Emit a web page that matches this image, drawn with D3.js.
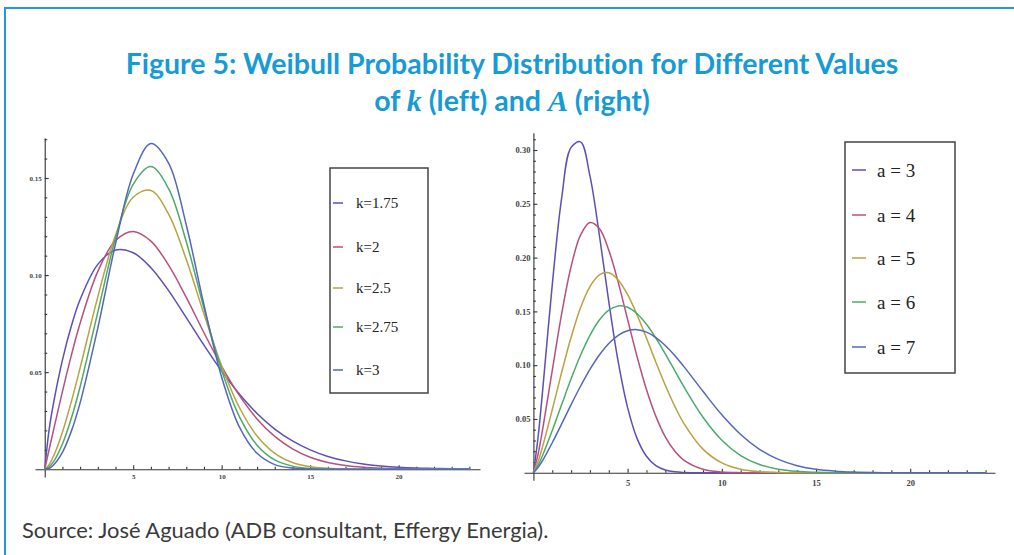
<!doctype html>
<html>
<head>
<style>
  body { margin: 0; background: #fff; }
  .tick text { font-family: "Liberation Serif", serif; font-weight: bold; fill: #444; }
  .domain, .tick line { stroke: #333; stroke-width: 1.1; }
  .legend text { font-family: "Liberation Serif", serif; fill: #222; }
  .ttl { font-family: Lato, sans-serif; font-weight: bold; fill: #169bd5; font-variant-ligatures: none; }
</style>
<script src="https://d3js.org/d3.v7.min.js"></script>
</head>
<body>
<svg width="1014" height="555"></svg>
<script>
// left panel: scale 7, shape k varies
const leftX = [0, 0.25, 0.5, 1, 1.5, 2, 3, 4, 5, 6, 7, 8, 9, 10, 11, 12, 13, 14, 15, 16, 17, 18, 19, 20, 21, 22, 23, 24];
const k175 = [0, 0.0205, 0.0342, 0.0562, 0.0736, 0.0874, 0.1055, 0.1129, 0.1115, 0.1038, 0.0920, 0.0781, 0.0639, 0.0505, 0.0387, 0.0287, 0.0207, 0.0146, 0.0100, 0.0066, 0.0043, 0.0027, 0.0017, 0.0010, 0.0006, 0.0004, 0.0002, 0.0001];
const k2   = [0, 0.0102, 0.0203, 0.0400, 0.0585, 0.0752, 0.1019, 0.1178, 0.1225, 0.1175, 0.1051, 0.0885, 0.0703, 0.0530, 0.0380, 0.0259, 0.0169, 0.0105, 0.0062, 0.0035, 0.0019, 0.0010, 0.0005, 0.0002, 0.0001, 0, 0, 0];
const k25  = [0, 0.0024, 0.0068, 0.0191, 0.0347, 0.0522, 0.0888, 0.1205, 0.1401, 0.1436, 0.1314, 0.1080, 0.0799, 0.0532, 0.0318, 0.0171, 0.0082, 0.0035, 0.0013, 0.0005, 0.0001, 0, 0, 0, 0, 0, 0, 0];
const k275 = [0, 0.0012, 0.0039, 0.0130, 0.0261, 0.0425, 0.0809, 0.1190, 0.1467, 0.1559, 0.1445, 0.1172, 0.0829, 0.0510, 0.0271, 0.0124, 0.0048, 0.0016, 0.0004, 0.0001, 0, 0, 0, 0, 0, 0, 0, 0];
const k3   = [0, 0.0005, 0.0022, 0.0087, 0.0195, 0.0342, 0.0728, 0.1161, 0.1519, 0.1678, 0.1577, 0.1258, 0.0846, 0.0474, 0.0218, 0.0082, 0.0024, 0.0006, 0.0001, 0, 0, 0, 0, 0, 0, 0, 0, 0];
const leftLabels = ["k=1.75", "k=2", "k=2.5", "k=2.75", "k=3"];

// right panel: scale a varies
const rightX = [0, 0.25, 0.5, 1, 1.5, 2, 2.5, 3, 3.5, 4, 4.5, 5, 5.5, 6, 6.5, 7, 7.5, 8, 9, 10, 11, 12, 13, 14, 15, 16, 17, 18, 19, 20, 21, 22, 23, 24];
const a3 = [0, 0.0335, 0.0785, 0.1746, 0.2556, 0.3024, 0.3076, 0.2759, 0.2210, 0.1591, 0.1032, 0.0605, 0.0320, 0.0153, 0.0066, 0.0026, 0.0009, 0.0003, 0, 0, 0, 0, 0, 0, 0, 0, 0, 0, 0, 0, 0, 0, 0, 0];
const a4 = [0, 0.0175, 0.0414, 0.0951, 0.1479, 0.1917, 0.2209, 0.2326, 0.2270, 0.2069, 0.1770, 0.1425, 0.1081, 0.0774, 0.0524, 0.0334, 0.0202, 0.0115, 0.0032, 0.0007, 0.0001, 0, 0, 0, 0, 0, 0, 0, 0, 0, 0, 0, 0, 0];
const a5 = [0, 0.0106, 0.0252, 0.0586, 0.0935, 0.1260, 0.1534, 0.1731, 0.1840, 0.1859, 0.1792, 0.1655, 0.1468, 0.1252, 0.1028, 0.0813, 0.0619, 0.0455, 0.0220, 0.0092, 0.0033, 0.0010, 0.0003, 0.0001, 0, 0, 0, 0, 0, 0, 0, 0, 0, 0];
const a6 = [0, 0.0071, 0.0167, 0.0392, 0.0634, 0.0873, 0.1092, 0.1278, 0.1420, 0.1512, 0.1551, 0.1538, 0.1478, 0.1380, 0.1252, 0.1105, 0.0950, 0.0795, 0.0516, 0.0303, 0.0160, 0.0077, 0.0033, 0.0013, 0.0005, 0.0001, 0, 0, 0, 0, 0, 0, 0, 0];
const a7 = [0, 0.0050, 0.0118, 0.0279, 0.0454, 0.0633, 0.0804, 0.0961, 0.1095, 0.1202, 0.1278, 0.1320, 0.1330, 0.1307, 0.1257, 0.1183, 0.1090, 0.0984, 0.0757, 0.0539, 0.0356, 0.0218, 0.0124, 0.0066, 0.0032, 0.0015, 0.0006, 0.0002, 0.0001, 0, 0, 0, 0, 0];
const rightLabels = ["a = 3", "a = 4", "a = 5", "a = 6", "a = 7"];

const xMajor = [5, 10, 15, 20];
const leftYMajor = [0.05, 0.10, 0.15];
const rightYMajor = [0.05, 0.10, 0.15, 0.20, 0.25, 0.30];

const colors = ["#5b4fb8", "#b8507e", "#b8a242", "#4caa6a", "#5468b8"];

var svg = d3.select("svg");

// frame
svg.append("line").attr("x1", 5).attr("y1", 8).attr("x2", 1014).attr("y2", 8)
   .attr("stroke", "#1f9ad6").attr("stroke-width", 2);
svg.append("line").attr("x1", 5).attr("y1", 7).attr("x2", 5).attr("y2", 555)
   .attr("stroke", "#1f9ad6").attr("stroke-width", 2);

// title
svg.append("text").attr("class", "ttl").attr("x", 512).attr("y", 74)
   .attr("text-anchor", "middle").style("font-size", "28.5px")
   .text("Figure 5: Weibull Probability Distribution for Different Values");
var t2 = svg.append("text").attr("class", "ttl").attr("x", 512).attr("y", 111)
   .attr("text-anchor", "middle").style("font-size", "28.5px");
t2.append("tspan").text("of ");
t2.append("tspan").style("font-family", "Liberation Serif").style("font-style", "italic").style("font-size", "30px").text("k");
t2.append("tspan").text(" (left) and ");
t2.append("tspan").style("font-family", "Liberation Serif").style("font-style", "italic").style("font-size", "30px").text("A");
t2.append("tspan").text(" (right)");

// source
svg.append("text").attr("x", 22).attr("y", 538)
   .style("font-family", "Lato").style("font-size", "21.9px").style("fill", "#3a3a3a")
   .text("Source: José Aguado (ADB consultant, Effergy Energia).");

function panel(cfg) {
  var x = d3.scaleLinear().domain(cfg.xDomain).range(cfg.xRange);
  var y = d3.scaleLinear().domain(cfg.yDomain).range(cfg.yRange);
  var g = svg.append("g");

  var x0 = y(0), y0 = x(0);
  var xMinor = d3.range(1, 25).filter(v => xMajor.indexOf(v) < 0);
  var yMinor = d3.range(0.01, cfg.yDomain[1], 0.01).filter(v => Math.abs(v * 20 - Math.round(v * 20)) > 0.01);

  g.append("g").attr("transform", "translate(0," + x0 + ")")
   .call(d3.axisBottom(x).tickValues(xMinor).tickFormat("").tickSize(-2.5).tickSizeOuter(0))
   .select(".domain").remove();
  g.append("g").attr("transform", "translate(0," + x0 + ")")
   .call(d3.axisBottom(x).tickValues(xMajor).tickSize(-4).tickSizeOuter(0).tickPadding(cfg.xpad))
   .selectAll("text").style("font-size", cfg.fs + "px");

  g.append("g").attr("transform", "translate(" + y0 + ",0)")
   .call(d3.axisLeft(y).tickValues(yMinor).tickFormat("").tickSize(-2.5).tickSizeOuter(0))
   .select(".domain").remove();
  g.append("g").attr("transform", "translate(" + y0 + ",0)")
   .call(d3.axisLeft(y).tickValues(cfg.yMajor).tickFormat(d3.format(".2f")).tickSize(-4).tickSizeOuter(0).tickPadding(3))
   .selectAll("text").style("font-size", cfg.fs + "px");

  var line = d3.line()
    .x(d => x(d[0])).y(d => y(d[1]))
    .curve(d3.curveCatmullRom.alpha(0.5));

  cfg.series.forEach(function(s, i) {
    g.append("path")
     .datum(cfg.xs.map((v, j) => [v, s[j]]))
     .attr("d", line)
     .attr("fill", "none")
     .attr("stroke", colors[i])
     .attr("stroke-width", 1.5);
  });

  // legend
  var L = cfg.legend;
  var lg = svg.append("g").attr("class", "legend");
  lg.append("rect").attr("x", L.x).attr("y", L.y).attr("width", L.w).attr("height", L.h)
    .attr("fill", "#fff").attr("stroke", "#444").attr("stroke-width", 1.5);
  cfg.labels.forEach(function(t, i) {
    var yy = L.rows[i];
    lg.append("line").attr("x1", L.lx1).attr("x2", L.lx2).attr("y1", yy).attr("y2", yy)
      .attr("stroke", colors[i]).attr("stroke-width", 1.5);
    lg.append("text").attr("x", L.tx).attr("y", yy).attr("dy", "0.35em")
      .style("font-size", L.fs + "px").text(t);
  });
}

panel({
  xs: leftX, series: [k175, k2, k25, k275, k3], labels: leftLabels,
  xDomain: [-0.55, 24.6], xRange: [35, 480],
  yDomain: [-0.004, 0.1706], yRange: [477, 138],
  yMajor: leftYMajor, fs: 7, xpad: 5,
  legend: {x: 330, y: 168, w: 98, h: 225, rows: [203, 247, 288, 327, 370], lx1: 333, lx2: 343, tx: 356, fs: 15}
});

panel({
  xs: rightX, series: [a3, a4, a5, a6, a7], labels: rightLabels,
  xDomain: [-0.5, 24.5], xRange: [524, 995],
  yDomain: [-0.007, 0.316], yRange: [480.3, 132.8],
  yMajor: rightYMajor, fs: 8.5, xpad: 7,
  legend: {x: 845, y: 142, w: 110, h: 231, rows: [170, 215, 258, 302, 347], lx1: 852, lx2: 866, tx: 877, fs: 19}
});
</script>
</body>
</html>
